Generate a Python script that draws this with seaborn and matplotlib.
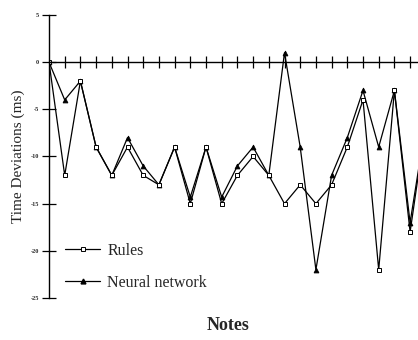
import matplotlib
matplotlib.use("Agg")
import matplotlib.pyplot as plt
from matplotlib.lines import Line2D
import numpy as np
import pandas as pd
import seaborn as sns

# ---- data ----
notes = list(range(25))
rules = [0, -12, -2, -9, -12, -9, -12, -13, -9, -15, -9, -15, -12, -10, -12,
         -15, -13, -15, -13, -9, -4, -22, -3, -18, -6.5]
neural = [0, -4, -2, -9, -12, -8, -11, -13, -9, -14.3, -9, -14.3, -11, -9, -12,
          1, -9, -22, -12, -8, -3, -9, -3, -17, -6.5]
yticks = [5, 0, -5, -10, -15, -20, -25]
ytick_labels = ["5", "0", "-5", "-10", "-15", "-20", "-25"]
series_labels = ["Rules", "Neural network"]

df_rules = pd.DataFrame({"note": notes, "dev": rules})
df_nn = pd.DataFrame({"note": notes, "dev": neural})

sns.set_style("white")
plt.rcParams["font.family"] = ["Liberation Serif", "DejaVu Serif"]

W, H = 418, 340
fig = plt.figure(figsize=(W / 100, H / 100), dpi=100)
left_px, top_px, bottom_px = 49, 15, 298
ax = fig.add_axes([left_px / W, (H - bottom_px) / H, (W - left_px) / W,
                   (bottom_px - top_px) / H])

sns.lineplot(data=df_nn, x="note", y="dev", ax=ax, color="black", lw=0.9,
             marker="^", markersize=3.5, markerfacecolor="black",
             markeredgecolor="black", markeredgewidth=0.6)
sns.lineplot(data=df_rules, x="note", y="dev", ax=ax, color="black", lw=0.9,
             marker="s", markersize=3.5, markerfacecolor="white",
             markeredgecolor="black", markeredgewidth=0.7)

for s in ["top", "right"]:
    ax.spines[s].set_visible(False)
ax.spines["bottom"].set_position(("data", 0))
for s in ["left", "bottom"]:
    ax.spines[s].set_linewidth(1.0)
    ax.spines[s].set_color("black")

ax.set_xticks(notes[1:])
ax.set_xticklabels([])
ax.tick_params(axis="x", bottom=True, direction="inout", length=8, width=0.9,
               color="black")
ax.set_yticks(yticks)
ax.set_yticklabels(ytick_labels, fontsize=4.5, fontweight="bold")
ax.tick_params(axis="y", left=True, direction="inout", length=10, width=0.9,
               color="black", pad=2)

# limits after ticks (set_xticks would otherwise widen the view)
ax.set_xlim(0, (W - left_px) / 15.7)
ax.set_ylim(-25, 5)

ax.set_ylabel("Time Deviations (ms)", fontsize=11)
ax.yaxis.set_label_coords((25 - left_px) / (W - left_px), 0.5)
ax.set_xlabel("")

fig.text(228 / W, 1 - 326 / H, "Notes", ha="center", va="center",
         fontsize=13, fontweight="bold")

handles = [
    Line2D([], [], color="black", lw=0.9, marker="s", markersize=3.5,
           markerfacecolor="white", markeredgecolor="black", markeredgewidth=0.7),
    Line2D([], [], color="black", lw=0.9, marker="^", markersize=3.5,
           markerfacecolor="black", markeredgecolor="black"),
]
ax.legend(handles, series_labels, loc="upper left",
          bbox_to_anchor=(65 / W, 1 - 243 / H), bbox_transform=fig.transFigure,
          frameon=False, fontsize=11.5, handlelength=2.2, handletextpad=0.45,
          labelspacing=1.0, borderpad=0, borderaxespad=0)

fig.savefig("out.png", dpi=100)
